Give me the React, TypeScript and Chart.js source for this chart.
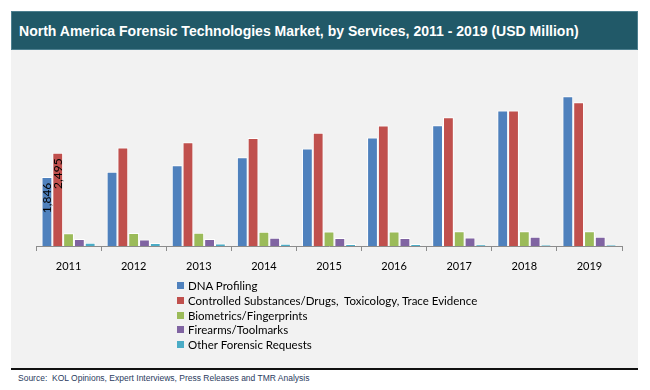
import React, { useEffect, useRef } from "react";
import { Chart, registerables } from "chart.js";

Chart.register(...registerables);

const years = ["2011", "2012", "2013", "2014", "2015", "2016", "2017", "2018", "2019"];
const seriesNames = [
  "DNA Profiling",
  "Controlled Substances/Drugs,  Toxicology, Trace Evidence",
  "Biometrics/Fingerprints",
  "Firearms/Toolmarks",
  "Other Forensic Requests",
];
const seriesColors = ["#4f81bd", "#c0504d", "#9bbb59", "#8064a2", "#4bacc6"];
const dnaProfiling = [1846, 1985, 2160, 2375, 2610, 2900, 3230, 3620, 4005];
const controlledSubstances = [2495, 2635, 2775, 2890, 3025, 3220, 3445, 3620, 3845];
const biometrics = [340, 350, 355, 380, 385, 390, 395, 395, 395];
const firearms = [185, 175, 185, 220, 215, 215, 225, 250, 250];
const otherRequests = [90, 80, 65, 60, 55, 55, 40, 30, 30];
const seriesValues = [dnaProfiling, controlledSubstances, biometrics, firearms, otherRequests];
const labelledPoints = [
  { dataset: 0, index: 0 },
  { dataset: 1, index: 0 },
];
const yMax = 5000;

const titleText = "North America Forensic Technologies Market, by Services, 2011 - 2019 (USD Million)";
const sourceText = "Source:  KOL Opinions, Expert Interviews, Press Releases and TMR Analysis";

function withThousands(v: number): string {
  return String(v).replace(/\B(?=(\d{3})+(?!\d))/g, ",");
}

const valueLabelPlugin = {
  id: "valueLabels",
  afterDatasetsDraw(chart: any) {
    const ctx = chart.ctx;
    ctx.save();
    ctx.font = "12px Lato";
    ctx.fillStyle = "#000";
    ctx.textAlign = "center";
    ctx.textBaseline = "middle";
    labelledPoints.forEach(({ dataset, index }) => {
      const el = chart.getDatasetMeta(dataset).data[index];
      const txt = withThousands(seriesValues[dataset][index]);
      ctx.save();
      ctx.translate(el.x, el.y + 21);
      ctx.rotate(-Math.PI / 2);
      ctx.fillText(txt, 0, 0);
      ctx.restore();
    });
    ctx.restore();
  },
};

export default function App() {
  const canvasRef = useRef<HTMLCanvasElement | null>(null);

  useEffect(() => {
    document.body.style.margin = "0";
    const chart = new Chart(canvasRef.current as HTMLCanvasElement, {
      type: "bar",
      data: {
        labels: years,
        datasets: seriesNames.map((name, i) => ({
          label: name,
          data: seriesValues[i],
          backgroundColor: seriesColors[i],
          borderColor: "#ffffff",
          borderWidth: 1,
          categoryPercentage: 0.83,
          barPercentage: 1,
        })),
      },
      options: {
        animation: false,
        responsive: false,
        maintainAspectRatio: false,
        layout: { padding: { left: 36, right: 28, top: 9, bottom: 4 } },
        plugins: {
          legend: { display: false },
          title: { display: false },
          tooltip: { enabled: false },
        },
        scales: {
          x: {
            offset: true,
            grid: {
              offset: true,
              drawOnChartArea: false,
              drawTicks: true,
              tickLength: 5,
              color: "#8c8c8c",
            },
            border: { display: true, color: "#8c8c8c", width: 1 },
            ticks: {
              color: "#000",
              font: { family: "Lato", size: 11 },
              padding: 9,
              maxRotation: 0,
            },
            afterFit: (scale: any) => {
              scale.height = 30;
            },
          },
          y: {
            display: false,
            min: 0,
            max: yMax,
          },
        },
      },
      plugins: [valueLabelPlugin],
    });
    return () => chart.destroy();
  }, []);

  return (
    <div style={{ position: "relative", width: 650, height: 390, background: "#fff", overflow: "hidden" }}>
      <div
        style={{
          position: "absolute",
          left: 11,
          top: 11,
          width: 625,
          height: 37,
          background: "#215968",
          border: "1px solid #4d7f8f",
        }}
      />
      <div
        style={{
          position: "absolute",
          left: 19,
          top: 11,
          height: 39,
          lineHeight: "39px",
          color: "#fff",
          fontFamily: "'Liberation Sans', Arial, sans-serif",
          fontWeight: "bold",
          fontSize: 15,
          whiteSpace: "nowrap",
          transform: "scaleX(0.935)",
          transformOrigin: "left center",
        }}
      >
        {titleText}
      </div>
      <div style={{ position: "absolute", left: 11, top: 50, width: 627, height: 318, background: "#f2f2f2" }} />
      <div style={{ position: "absolute", left: 11, top: 368, width: 627, height: 2, background: "#111" }} />
      <canvas
        ref={canvasRef}
        width={650}
        height={230}
        style={{ position: "absolute", left: 0, top: 50, width: 650, height: 230 }}
      />
      {seriesNames.map((name, i) => (
        <div
          key={name}
          style={{
            position: "absolute",
            left: 177,
            top: 278 + i * 14.8,
            height: 15,
            display: "flex",
            alignItems: "center",
            fontFamily: "Lato, sans-serif",
            fontSize: 11.5,
            color: "#000",
            whiteSpace: "pre",
          }}
        >
          <span style={{ display: "inline-block", width: 7, height: 7, background: seriesColors[i], marginRight: 4 }} />
          <span>{name}</span>
        </div>
      ))}
      <div
        style={{
          position: "absolute",
          left: 18,
          top: 373,
          fontFamily: "'Liberation Sans', Arial, sans-serif",
          fontSize: 8.5,
          color: "#2a3b5e",
          whiteSpace: "pre",
        }}
      >
        {sourceText}
      </div>
    </div>
  );
}
